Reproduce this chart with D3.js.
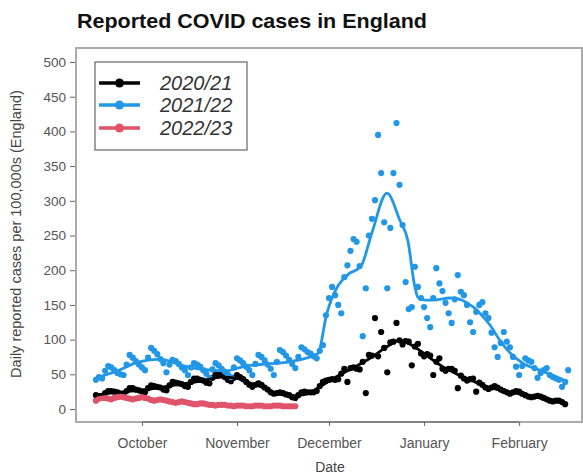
<!DOCTYPE html>
<html><head><meta charset="utf-8">
<script src="https://cdn.jsdelivr.net/npm/d3@7"></script>
<style>
html,body{margin:0;padding:0;background:#fff;}
svg{display:block;font-family:"Liberation Sans",Arial,sans-serif;}
</style></head>
<body>
<svg id="chart" width="583" height="475"></svg>
<script>
// ---------------- data ----------------
const seasonStart = "2020-09-16";           // day 0 of every season (aligned)
const seriesNames = ["2020/21", "2021/22", "2022/23"];
const monthLabels = ["October", "November", "December", "January", "February"];
const monthTicks = ["2020-10-01", "2020-11-01", "2020-12-01", "2021-01-01", "2021-02-01"];
const yTicks = [0, 50, 100, 150, 200, 250, 300, 350, 400, 450, 500];

// daily reported cases per 100,000 (day index from seasonStart)
const cases2020 = [20,18,17,23,26,26,25,
24,22,21,26,30,30,28,
27,25,24,30,34,33,32,
31,28,27,34,39,38,37,
36,33,32,39,44,44,42,
41,38,37,45,50,50,49,
46,42,40,45,49,46,43,
39,35,32,35,37,35,31,
28,24,22,23,24,23,21,
20,17,16,20,24,25,24,
24,24,26,33,39,41,42,
43,42,43,51,58,39,59,
60,58,57,68,23,78,77,
131,76,111,88,53,96,97,
124,99,93,98,97,63,90,
94,80,76,79,77,49,68,
73,58,55,58,58,55,30,
48,44,41,43,44,25,38,
35,31,29,31,33,31,28,
26,24,22,24,26,25,22,
20,18,17,18,19,18,16,
14,12,11,12,12,10,7];

const cases2021 = [42,46,44,55,62,60,56,52,50,
49,64,78,74,69,64,60,
56,74,88,84,79,72,66,
53,64,71,69,65,60,56,
49,60,66,64,61,56,51,
45,57,66,63,58,54,50,
46,60,73,70,66,61,56,
49,65,78,75,70,64,58,
49,68,85,82,77,71,65,
59,75,89,86,82,80,76,
73,84,92,
135,160,176,164,150,138,190,207,228,245,241,206,105,174,250,
274,301,395,340,269,174,261,340,412,323,265,183,144,147,205,176,160,
147,131,118,160,203,181,170,153,138,124,158,193,169,164,150,125,111,140,150,154,138,131,110,89,75,95,111,97,89,75,61,49,62,73,70,68,59,45,52,56,59,49,46,44,42,32,39,56];

const cases2022 = [12,15,17,16,15,14,16,17,18,17,
16,15,14,15,16,17,16,15,13,12,
13,14,13,12,11,10,9,10,11,10,
9,8,7,7,8,8,7,6,6,5,
6,6,6,5,5,4,5,5,5,4,
4,4,5,5,5,4,4,4,5,5,
5,4,4,4,4,4];

// smoothed trend lines (day index, value)
const trend2020Days = [0,7,14,21,28,35,41,46,50,55,60,65,70,73,79,85,90,95,99,103,107,112,117,122,127,132,138,145,153];
const trend2020Vals = [20,24,27,31,36,41,46,44,38,30,21,19,24,32,48,62,75,90,99,92,80,64,52,42,33,27,22,16,8];
const trend2021Days = [0,7,14,21,28,35,42,49,56,63,72.4,75.3,82.8,84.8,86.7,90,94.9,99.1,101.7,104,105,107.3,109.9,115.4,118.7,121,123.6,125.2,128.5,131.7,135,139.2,144.8,150.3,153.9];
const trend2021Vals = [45,55,68,72,63,57,55,62,65,68,80,138,196,200,208,254,311,272,243,176,161,157,157,160,158,153,145,138,121,99,81,66,56,46,39];
const trend2022Days = [0,7,14,21,28,35,42,49,56,65];
const trend2022Vals = [13,16,16,13,10,8,6,5,4.5,4];

const colors = ["#000000", "#2297E6", "#DF536B"];

// ---------------- chart ----------------
const svg = d3.select("#chart");
const parse = d3.utcParse("%Y-%m-%d");
const start = parse(seasonStart);
const dayToDate = d => new Date(start.getTime() + d * 864e5);

const x = d3.scaleUtc()
  .domain([new Date(Date.UTC(2020, 8, 9, 12)), new Date(Date.UTC(2021, 1, 21, 12))])
  .range([76, 582]);
const y = d3.scaleLinear().domain([-18.7, 520.2]).range([422, 48]);

const series = [
  {name: seriesNames[0], color: colors[0], pts: cases2020, tD: trend2020Days, tV: trend2020Vals},
  {name: seriesNames[1], color: colors[1], pts: cases2021, tD: trend2021Days, tV: trend2021Vals},
  {name: seriesNames[2], color: colors[2], pts: cases2022, tD: trend2022Days, tV: trend2022Vals}
];

// title
svg.append("text").attr("x", 77).attr("y", 28)
  .attr("font-size", 20.5).attr("font-weight", "bold").attr("fill", "#111")
  .attr("textLength", 350).attr("lengthAdjust", "spacingAndGlyphs")
  .text("Reported COVID cases in England");

// panel border
svg.append("rect").attr("x", 76).attr("y", 48).attr("width", 506).attr("height", 374)
  .attr("fill", "none").attr("stroke", "#ababab").attr("stroke-width", 2);

// y axis
const yAxis = d3.axisLeft(y).tickValues(yTicks).tickSize(5).tickPadding(4);
const gy = svg.append("g").attr("transform", "translate(75,0)").call(yAxis);
gy.select(".domain").remove();
gy.selectAll(".tick line").attr("stroke", "#666");
gy.selectAll(".tick text").attr("font-size", 13.5).attr("fill", "#555")
  .attr("font-family", "'Liberation Sans', Arial, sans-serif");

// x axis
const xAxis = d3.axisBottom(x).tickValues(monthTicks.map(parse))
  .tickFormat((d, i) => monthLabels[i]).tickSize(4).tickPadding(12);
const gx = svg.append("g").attr("transform", "translate(0,422)").call(xAxis);
gx.select(".domain").attr("stroke", "#777").attr("stroke-width", 1.5)
  .attr("d", `M${x(parse(monthTicks[0]))},0H${x(parse(monthTicks[4]))}`);
gx.selectAll(".tick line").attr("stroke", "#666");
gx.selectAll(".tick text").attr("font-size", 14).attr("fill", "#555")
  .attr("font-family", "'Liberation Sans', Arial, sans-serif");

// axis titles
svg.append("text").attr("x", 330).attr("y", 472).attr("text-anchor", "middle")
  .attr("font-size", 14).attr("fill", "#444").text("Date");
svg.append("text").attr("transform", "translate(21,234) rotate(-90)")
  .attr("text-anchor", "middle").attr("font-size", 14.5).attr("fill", "#444")
  .text("Daily reported cases per 100,000s (England)");

// points
const plot = svg.append("g");
series.forEach(s => {
  plot.append("g").selectAll("circle").data(s.pts).join("circle")
    .attr("cx", (v, i) => x(dayToDate(i)))
    .attr("cy", v => y(v))
    .attr("r", 3.1)
    .attr("fill", s.color);
});
// trend lines
const line = d3.line().x(d => x(dayToDate(d[0]))).y(d => y(d[1])).curve(d3.curveMonotoneX);
series.forEach(s => {
  plot.append("path").datum(s.tD.map((d, i) => [d, s.tV[i]]))
    .attr("d", line).attr("fill", "none").attr("stroke", s.color)
    .attr("stroke-width", 2.8).attr("stroke-linejoin", "round");
});

// legend
const lg = svg.append("g");
lg.append("rect").attr("x", 95).attr("y", 62).attr("width", 152).attr("height", 88)
  .attr("fill", "#fff").attr("stroke", "#666").attr("stroke-width", 1.2);
const rowsY = [83, 105, 128];
series.forEach((s, i) => {
  lg.append("line").attr("x1", 99).attr("x2", 140).attr("y1", rowsY[i]).attr("y2", rowsY[i])
    .attr("stroke", s.color).attr("stroke-width", 3.5);
  lg.append("circle").attr("cx", 119.5).attr("cy", rowsY[i]).attr("r", 4.5).attr("fill", s.color);
  lg.append("text").attr("x", 160).attr("y", rowsY[i] + 7).attr("font-size", 20)
    .attr("font-style", "italic").attr("fill", "#333").text(s.name);
});
</script>
</body></html>
